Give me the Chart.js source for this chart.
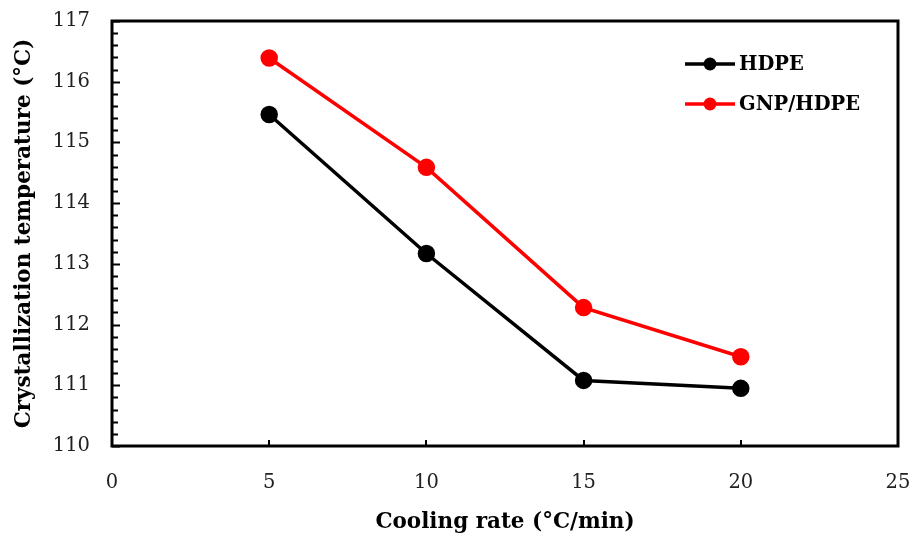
<!DOCTYPE html>
<html>
<head>
<meta charset="utf-8">
<title>Crystallization temperature</title>
<script src="https://cdn.jsdelivr.net/npm/chart.js@4.4.1/dist/chart.umd.min.js"></script>
<style>
  html, body { margin: 0; padding: 0; background: #fff; }
  #box { width: 915px; height: 541px; position: relative; }
</style>
</head>
<body>
<div id="box"><canvas id="myChart"></canvas></div>
<script>
'use strict';
/*---------------- data ----------------*/
const coolingRates = [5, 10, 15, 20];
const hdpeTemps = [115.46, 113.17, 111.08, 110.95];
const gnpHdpeTemps = [116.39, 114.59, 112.28, 111.47];
const seriesNames = ['HDPE', 'GNP/HDPE'];
const seriesColors = ['#000000', '#ff0000'];
const xTicks = [0, 5, 10, 15, 20, 25];
const yTicks = [110, 111, 112, 113, 114, 115, 116, 117];

const tickFont = { family: 'DejaVu Serif', size: 19.5 };
const titleFont = { family: 'DejaVu Serif', size: 21.5, weight: 'bold' };

function toPoints(xs, ys) {
  return xs.map((x, i) => ({ x: x, y: ys[i] }));
}

/*---------- plugin: frame, inward ticks and the legend ----------*/
const framePlugin = {
  id: 'framePlugin',
  afterDraw(chart) {
    const ctx = chart.ctx;
    const area = chart.chartArea;
    const xs = chart.scales.x;
    const ys = chart.scales.y;
    ctx.save();
    ctx.strokeStyle = '#000';
    ctx.lineWidth = 3;
    ctx.strokeRect(area.left, area.top, area.right - area.left, area.bottom - area.top);

    ctx.lineWidth = 2;
    // y major + minor ticks (every 0.2)
    for (let v = yTicks[0]; v <= yTicks[yTicks.length - 1] + 1e-6; v += 0.2) {
      const py = Math.round(ys.getPixelForValue(v)) + 0.5;
      const major = Math.abs(v - Math.round(v)) < 1e-6;
      ctx.beginPath();
      ctx.moveTo(area.left, py);
      ctx.lineTo(area.left + (major ? 8 : 6), py);
      ctx.stroke();
    }
    // x major ticks
    xTicks.forEach(v => {
      const px = Math.round(xs.getPixelForValue(v));
      ctx.beginPath();
      ctx.moveTo(px, area.bottom);
      ctx.lineTo(px, area.bottom - 6);
      ctx.stroke();
    });

    // legend
    ctx.font = 'bold 19.5px "DejaVu Serif"';
    ctx.textBaseline = 'middle';
    seriesNames.forEach((name, i) => {
      const y = area.top + 43 + i * 40;
      const x0 = area.right - 213;
      ctx.strokeStyle = seriesColors[i];
      ctx.fillStyle = seriesColors[i];
      ctx.lineWidth = 3.5;
      ctx.beginPath();
      ctx.moveTo(x0, y);
      ctx.lineTo(x0 + 50, y);
      ctx.stroke();
      ctx.beginPath();
      ctx.arc(x0 + 25, y, 6.5, 0, Math.PI * 2);
      ctx.fill();
      ctx.fillStyle = '#000';
      ctx.fillText(name, x0 + 54, y + 1);
    });
    ctx.restore();
  }
};

/*---------------------- chart ----------------------*/
const ctx = document.getElementById('myChart').getContext('2d');
const chart = new Chart(ctx, {
  type: 'line',
  data: {
    datasets: [
      {
        label: seriesNames[0],
        data: toPoints(coolingRates, hdpeTemps),
        borderColor: seriesColors[0],
        backgroundColor: seriesColors[0],
        borderWidth: 3.5,
        pointRadius: 7,
        pointHoverRadius: 7,
        tension: 0
      },
      {
        label: seriesNames[1],
        data: toPoints(coolingRates, gnpHdpeTemps),
        borderColor: seriesColors[1],
        backgroundColor: seriesColors[1],
        borderWidth: 3.5,
        pointRadius: 7,
        pointHoverRadius: 7,
        tension: 0
      }
    ]
  },
  options: {
    responsive: true,
    maintainAspectRatio: false,
    animation: false,
    layout: { padding: { top: 21, right: 17, left: 0, bottom: 0 } },
    plugins: {
      legend: { display: false },
      tooltip: { enabled: false }
    },
    scales: {
      x: {
        type: 'linear',
        min: 0,
        max: 25,
        afterBuildTicks(scale) {
          scale.ticks = xTicks.map(v => ({ value: v }));
        },
        grid: { display: false, drawTicks: false },
        border: { display: false },
        ticks: { color: '#222', font: tickFont, padding: 25 },
        title: {
          display: true,
          text: 'Cooling rate (°C/min)',
          color: '#000',
          font: titleFont,
          padding: { top: 6, bottom: 6 }
        },
        afterFit(scale) {
          scale.height = 95;
          scale.paddingLeft = 0;
          scale.paddingRight = 0;
        }
      },
      y: {
        type: 'linear',
        min: 110,
        max: 117,
        afterBuildTicks(scale) {
          scale.ticks = yTicks.map(v => ({ value: v }));
        },
        grid: { display: false, drawTicks: false },
        border: { display: false },
        ticks: { color: '#222', font: tickFont, padding: 22 },
        title: {
          display: true,
          text: 'Crystallization temperature (°C)',
          color: '#000',
          font: titleFont,
          padding: { top: 12, bottom: 6 }
        },
        afterFit(scale) {
          scale.width = 112;
          scale.paddingTop = 0;
          scale.paddingBottom = 0;
        }
      }
    }
  },
  plugins: [framePlugin]
});
</script>
</body>
</html>
